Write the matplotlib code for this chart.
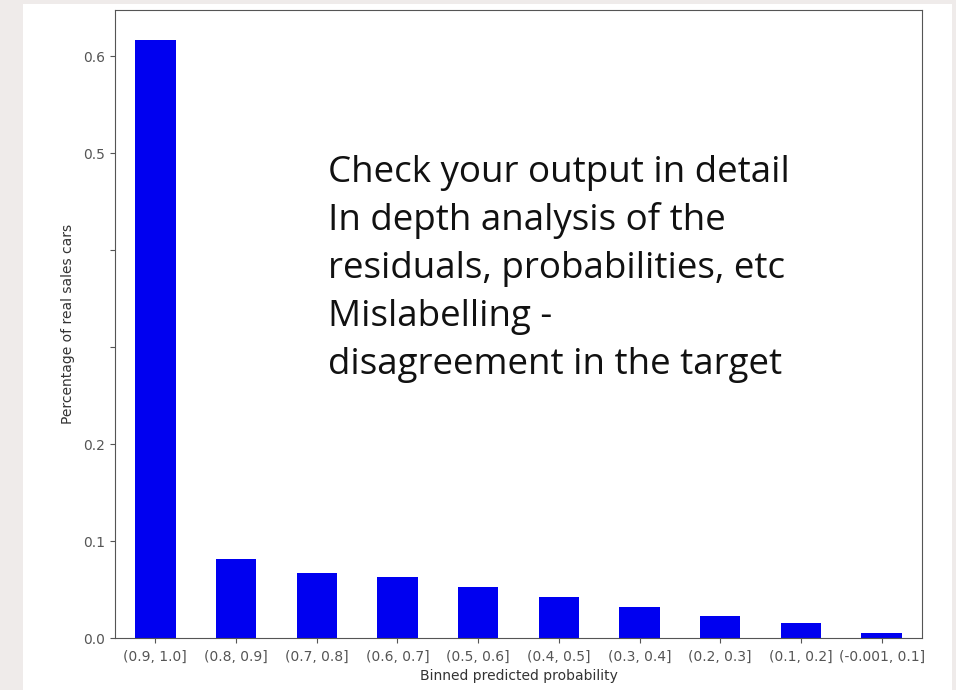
import matplotlib
matplotlib.use("Agg")
import matplotlib.pyplot as plt
from matplotlib.patches import Rectangle

# Share of real sales cars per predicted-probability bin
bins = ["(0.9, 1.0]", "(0.8, 0.9]", "(0.7, 0.8]", "(0.6, 0.7]", "(0.5, 0.6]",
        "(0.4, 0.5]", "(0.3, 0.4]", "(0.2, 0.3]", "(0.1, 0.2]", "(-0.001, 0.1]"]
share = [0.6166, 0.0819, 0.0665, 0.0630, 0.0527,
         0.0424, 0.0322, 0.0229, 0.0157, 0.0051]

y_ticks = [0.0, 0.1, 0.2, 0.3, 0.4, 0.5, 0.6]
y_tick_labels = ["0.0", "0.1", "0.2", "", "", "0.5", "0.6"]

notes = [
    "Check your output in detail",
    "In depth analysis of the",
    "residuals, probabilities, etc",
    "Mislabelling -",
    "disagreement in the target",
]

W, H = 956, 690
fig = plt.figure(figsize=(W / 100, H / 100), dpi=100)
fig.patch.set_facecolor("#efebea")

# white slide panel behind everything
fig.patches.append(Rectangle((23 / W, 0), (952 - 23) / W, 1 - 4 / H,
                             transform=fig.transFigure, facecolor="white",
                             edgecolor="none", zorder=-10))

ax = fig.add_axes([115 / W, 1 - 638 / H, (922 - 115) / W, (638 - 10) / H])
ax.set_zorder(1)
ax.set_facecolor("white")
x = list(range(len(bins)))
ax.bar(x, share, width=0.5, color="#0000f0")
ax.set_xlim(-0.5, len(bins) - 0.5)
ax.set_ylim(0, max(share) * 1.05)
ax.set_xticks(x)
ax.set_xticklabels(bins, rotation=0, fontsize=10, color="#333333")
ax.set_yticks(y_ticks)
ax.set_yticklabels(y_tick_labels, fontsize=10, color="#333333")
ax.tick_params(axis="x", pad=5)
ax.set_xlabel("Binned predicted probability", fontsize=10, color="#333333", labelpad=4)
ax.set_ylabel("Percentage of real sales cars", fontsize=10, color="#333333", labelpad=6)
for s in ax.spines.values():
    s.set_color("#555555")
ax.tick_params(colors="#555555")

for i, line in enumerate(notes):
    y = 182 + 48 * i
    fig.text(328 / W, 1 - y / H, line, fontsize=26.5, family="Open Sans",
             color="#111111", ha="left", va="baseline", zorder=5)

fig.savefig("out.png", dpi=100)
